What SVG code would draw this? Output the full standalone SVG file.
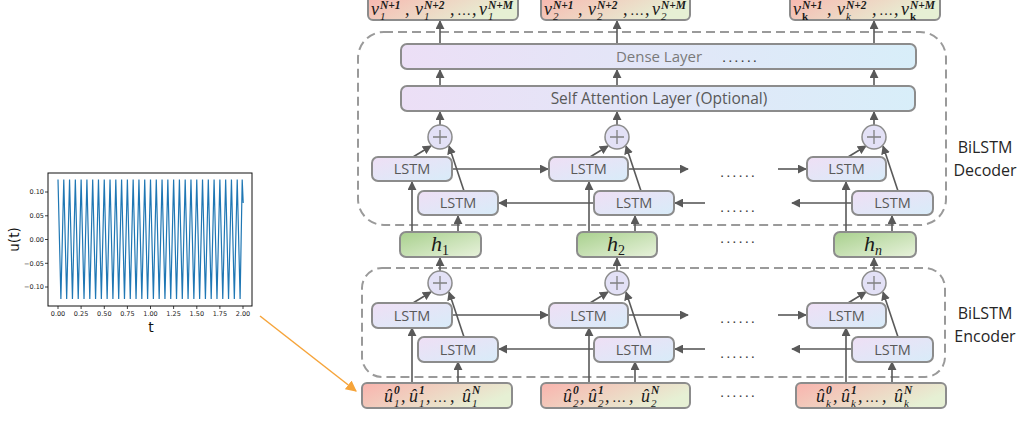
<svg xmlns="http://www.w3.org/2000/svg" width="1027" height="421" viewBox="0 0 1027 421">
  <defs>
    <linearGradient id="gLstm" x1="0" y1="0" x2="1" y2="1">
      <stop offset="0" stop-color="#efdff5"/>
      <stop offset="1" stop-color="#d8ecf9"/>
    </linearGradient>
    <linearGradient id="gLayer" x1="0" y1="0" x2="1" y2="0">
      <stop offset="0" stop-color="#ecdff6"/>
      <stop offset="1" stop-color="#d8eef9"/>
    </linearGradient>
    <linearGradient id="gH" x1="0" y1="0" x2="1" y2="1">
      <stop offset="0" stop-color="#a8d08d"/>
      <stop offset="1" stop-color="#e8f2dc"/>
    </linearGradient>
    <linearGradient id="gSeq" x1="0" y1="0" x2="1" y2="0.4">
      <stop offset="0" stop-color="#f9b3ad"/>
      <stop offset="1" stop-color="#e6f0d4"/>
    </linearGradient>
    <marker id="ah" viewBox="0 0 10 10" refX="9" refY="5" markerWidth="9" markerHeight="9" markerUnits="userSpaceOnUse" orient="auto">
      <path d="M0,0 L10,5 L0,10 z" fill="#595959"/>
    </marker>
    <marker id="ahO" viewBox="0 0 10 10" refX="9" refY="5" markerWidth="11" markerHeight="11" markerUnits="userSpaceOnUse" orient="auto">
      <path d="M0,0 L10,5 L0,10 z" fill="#f6a43a"/>
    </marker>
  </defs>
  <style>
    .box{stroke:#8c8c8c;stroke-width:2}
    .lstm{fill:url(#gLstm)}
    .layer{fill:url(#gLayer)}
    .hbox{fill:url(#gH)}
    .seq{fill:url(#gSeq)}
    .sum{fill:#e3e1f6;stroke:#8c8c8c;stroke-width:1.5}
    .plus{stroke:#808080;stroke-width:1.3}
    .dash{fill:none;stroke:#9a9a9a;stroke-width:2;stroke-dasharray:9 5}
    .lbl{font-family:"Open Sans","Liberation Sans",sans-serif;font-size:14.5px;fill:#595959;text-anchor:middle}
    .lbl1{font-family:"Open Sans","Liberation Sans",sans-serif;font-size:15.5px;fill:#595959;text-anchor:middle}
    .lbl2{font-family:"Open Sans","Liberation Sans",sans-serif;font-size:15px;fill:#7a7a7a;text-anchor:middle}
    .side{font-family:"Open Sans","Liberation Sans",sans-serif;font-size:16px;fill:#262626;text-anchor:middle}
    .dots{font-family:"Liberation Sans",sans-serif;font-size:15px;fill:#404040;letter-spacing:2px}
    .m{font-family:"Liberation Serif",serif;font-style:italic;fill:#1a1a1a}
    .mv{font-size:18px}
    .me{font-size:14px;font-style:normal}
    .ms{font-size:11px}
    .mb{font-size:11.5px;font-weight:bold}
    .mh{font-size:22px}
    .mhs{font-size:14px;font-style:normal}
    .up{font-style:normal;font-weight:bold}
    .c{stroke:#595959;stroke-width:1.6;fill:none;marker-end:url(#ah)}
    .ax{font-family:"DejaVu Sans",sans-serif;font-size:6.5px;fill:#222}
  </style>

  <!-- signal plot -->
  <g id="plot">
    <polyline fill="none" stroke="#1f77b4" stroke-width="1.2" points="58,179.6 60.89,298.9 63.78,179.6 66.67,298.9 69.56,179.6 72.45,298.9 75.34,179.6 78.23,298.9 81.13,179.6 84.02,298.9 86.91,179.6 89.8,298.9 92.69,179.6 95.58,298.9 98.47,179.6 101.36,298.9 104.25,179.6 107.14,298.9 110.03,179.6 112.92,298.9 115.81,179.6 118.7,298.9 121.59,179.6 124.48,298.9 127.38,179.6 130.27,298.9 133.16,179.6 136.05,298.9 138.94,179.6 141.83,298.9 144.72,179.6 147.61,298.9 150.5,179.6 153.39,298.9 156.28,179.6 159.17,298.9 162.06,179.6 164.95,298.9 167.84,179.6 170.73,298.9 173.63,179.6 176.52,298.9 179.41,179.6 182.3,298.9 185.19,179.6 188.08,298.9 190.97,179.6 193.86,298.9 196.75,179.6 199.64,298.9 202.53,179.6 205.42,298.9 208.31,179.6 211.2,298.9 214.09,179.6 216.98,298.9 219.88,179.6 222.77,298.9 225.66,179.6 228.55,298.9 231.44,179.6 234.33,298.9 237.22,179.6 240.11,298.9 242.2,179.6 243.2,203"/>
    <rect x="48" y="173" width="204" height="133" fill="none" stroke="#111" stroke-width="1"/>
    <g stroke="#111" stroke-width="0.8">
      <line x1="45" y1="192" x2="48" y2="192"/><line x1="45" y1="215.8" x2="48" y2="215.8"/><line x1="45" y1="239.5" x2="48" y2="239.5"/><line x1="45" y1="263.3" x2="48" y2="263.3"/><line x1="45" y1="287" x2="48" y2="287"/>
      <line x1="58" y1="306" x2="58" y2="309"/><line x1="81.1" y1="306" x2="81.1" y2="309"/><line x1="104.3" y1="306" x2="104.3" y2="309"/><line x1="127.4" y1="306" x2="127.4" y2="309"/><line x1="150.5" y1="306" x2="150.5" y2="309"/><line x1="173.6" y1="306" x2="173.6" y2="309"/><line x1="196.8" y1="306" x2="196.8" y2="309"/><line x1="219.9" y1="306" x2="219.9" y2="309"/><line x1="243" y1="306" x2="243" y2="309"/>
    </g>
    <g class="ax" text-anchor="end">
      <text x="44" y="194.3">0.10</text><text x="44" y="218.1">0.05</text><text x="44" y="241.8">0.00</text><text x="44" y="265.6">−0.05</text><text x="44" y="289.3">−0.10</text>
    </g>
    <g class="ax" text-anchor="middle">
      <text x="58" y="316">0.00</text><text x="81.1" y="316">0.25</text><text x="104.3" y="316">0.50</text><text x="127.4" y="316">0.75</text><text x="150.5" y="316">1.00</text><text x="173.6" y="316">1.25</text><text x="196.8" y="316">1.50</text><text x="219.9" y="316">1.75</text><text x="243" y="316">2.00</text>
    </g>
    <text x="151" y="332" font-family="DejaVu Sans,sans-serif" font-size="14" fill="#111" text-anchor="middle">t</text>
    <text transform="translate(19,239.5) rotate(-90)" font-family="DejaVu Sans,sans-serif" font-size="13.5" fill="#111" text-anchor="middle">u(t)</text>
  </g>

  <!-- grouping frames -->
  <g id="decoder-frame">
    <rect class="dash" x="358" y="32" width="588" height="193" rx="26"/>
    <text class="side" x="985" y="153">BiLSTM</text>
    <text class="side" x="985" y="176">Decoder</text>
  </g>
  <g id="encoder-frame">
    <rect class="dash" x="362" y="268" width="583" height="109" rx="20"/>
    <text class="side" x="985" y="319">BiLSTM</text>
    <text class="side" x="985" y="342">Encoder</text>
  </g>

  <!-- connectors -->
  <g id="connectors">
    <line x1="260" y1="316" x2="356" y2="391" stroke="#f6a43a" stroke-width="1.5" marker-end="url(#ahO)"/>
    <!-- encoder columns -->
    <line class="c" x1="412" y1="383" x2="412" y2="328"/>
    <line class="c" x1="458" y1="383" x2="458" y2="362"/>
    <line class="c" x1="589" y1="383" x2="589" y2="328"/>
    <line class="c" x1="635" y1="383" x2="635" y2="362"/>
    <line class="c" x1="846" y1="383" x2="846" y2="328"/>
    <line class="c" x1="892" y1="383" x2="892" y2="362"/>
    <line class="c" x1="413" y1="303" x2="431" y2="292"/>
    <line class="c" x1="464" y1="337" x2="449" y2="292"/>
    <line class="c" x1="590" y1="303" x2="608" y2="292"/>
    <line class="c" x1="641" y1="337" x2="626" y2="292"/>
    <line class="c" x1="848" y1="303" x2="866" y2="292"/>
    <line class="c" x1="898" y1="337" x2="883" y2="292"/>
    <line class="c" x1="452" y1="315" x2="548" y2="315"/>
    <line class="c" x1="628" y1="315" x2="688" y2="315"/>
    <line class="c" x1="778" y1="315" x2="806" y2="315"/>
    <line class="c" x1="852" y1="349" x2="792" y2="349"/>
    <line class="c" x1="705" y1="349" x2="675" y2="349"/>
    <line class="c" x1="594" y1="349" x2="499" y2="349"/>
    <line class="c" x1="440" y1="271" x2="440" y2="258"/>
    <line class="c" x1="617" y1="271" x2="617" y2="258"/>
    <line class="c" x1="874" y1="271" x2="874" y2="258"/>
    <!-- decoder columns -->
    <line class="c" x1="412" y1="232" x2="412" y2="182"/>
    <line class="c" x1="458" y1="232" x2="458" y2="216"/>
    <line class="c" x1="589" y1="232" x2="589" y2="182"/>
    <line class="c" x1="635" y1="232" x2="635" y2="216"/>
    <line class="c" x1="846" y1="232" x2="846" y2="182"/>
    <line class="c" x1="892" y1="232" x2="892" y2="216"/>
    <line class="c" x1="413" y1="157" x2="431" y2="146"/>
    <line class="c" x1="464" y1="191" x2="449" y2="146"/>
    <line class="c" x1="590" y1="157" x2="608" y2="146"/>
    <line class="c" x1="641" y1="191" x2="626" y2="146"/>
    <line class="c" x1="848" y1="157" x2="866" y2="146"/>
    <line class="c" x1="898" y1="191" x2="883" y2="146"/>
    <line class="c" x1="452" y1="169" x2="548" y2="169"/>
    <line class="c" x1="628" y1="169" x2="688" y2="169"/>
    <line class="c" x1="778" y1="169" x2="806" y2="169"/>
    <line class="c" x1="852" y1="203" x2="792" y2="203"/>
    <line class="c" x1="705" y1="203" x2="675" y2="203"/>
    <line class="c" x1="594" y1="203" x2="499" y2="203"/>
    <line class="c" x1="440" y1="125" x2="440" y2="112"/>
    <line class="c" x1="617" y1="125" x2="617" y2="112"/>
    <line class="c" x1="874" y1="125" x2="874" y2="112"/>
    <line class="c" x1="440" y1="86" x2="440" y2="70"/>
    <line class="c" x1="617" y1="86" x2="617" y2="70"/>
    <line class="c" x1="874" y1="86" x2="874" y2="70"/>
    <line class="c" x1="440" y1="44" x2="440" y2="21"/>
    <line class="c" x1="617" y1="44" x2="617" y2="21"/>
    <line class="c" x1="874" y1="44" x2="874" y2="21"/>
  </g>

  <!-- input sequences -->
  <g id="input-1">
    <rect class="box seq" x="362" y="383" width="150" height="25" rx="5"/>
    <text class="m"><tspan class="mv" x="384" y="402">û</tspan><tspan class="ms" x="394" y="407">1</tspan><tspan class="mb" x="394" y="394">0</tspan><tspan class="mv" x="401" y="402">,</tspan><tspan class="mv" x="409" y="402">û</tspan><tspan class="ms" x="419" y="407">1</tspan><tspan class="mb" x="419" y="394">1</tspan><tspan class="mv" x="426" y="402">,</tspan><tspan class="me" x="433" y="402">…</tspan><tspan class="mv" x="450" y="402">,</tspan><tspan class="mv" x="462" y="402">û</tspan><tspan class="ms" x="472" y="407">1</tspan><tspan class="mb" x="472" y="394">N</tspan></text>
  </g>
  <g id="input-2">
    <rect class="box seq" x="541" y="383" width="149" height="25" rx="5"/>
    <text class="m"><tspan class="mv" x="563" y="402">û</tspan><tspan class="ms" x="573" y="407">2</tspan><tspan class="mb" x="573" y="394">0</tspan><tspan class="mv" x="580" y="402">,</tspan><tspan class="mv" x="588" y="402">û</tspan><tspan class="ms" x="598" y="407">2</tspan><tspan class="mb" x="598" y="394">1</tspan><tspan class="mv" x="605" y="402">,</tspan><tspan class="me" x="612" y="402">…</tspan><tspan class="mv" x="629" y="402">,</tspan><tspan class="mv" x="641" y="402">û</tspan><tspan class="ms" x="651" y="407">2</tspan><tspan class="mb" x="651" y="394">N</tspan></text>
  </g>
  <g id="input-k">
    <rect class="box seq" x="796" y="383" width="150" height="25" rx="5"/>
    <text class="m"><tspan class="mv" x="816" y="402">û</tspan><tspan class="ms" x="826" y="407">k</tspan><tspan class="mb" x="826" y="394">0</tspan><tspan class="mv" x="833" y="402">,</tspan><tspan class="mv" x="841" y="402">û</tspan><tspan class="ms" x="851" y="407">k</tspan><tspan class="mb" x="851" y="394">1</tspan><tspan class="mv" x="858" y="402">,</tspan><tspan class="me" x="865" y="402">…</tspan><tspan class="mv" x="882" y="402">,</tspan><tspan class="mv" x="894" y="402">û</tspan><tspan class="ms" x="904" y="407">k</tspan><tspan class="mb" x="904" y="394">N</tspan></text>
  </g>
  <text class="dots" x="720" y="397">......</text>

  <!-- encoder cells -->
  <g id="enc-fw-1"><rect class="box lstm" x="372" y="303" width="80" height="25" rx="6"/><text class="lbl" x="412" y="320.5">LSTM</text></g>
  <g id="enc-bw-1"><rect class="box lstm" x="418" y="337" width="80" height="25" rx="6"/><text class="lbl" x="458" y="354.5">LSTM</text></g>
  <g id="enc-sum-1"><circle class="sum" cx="440" cy="283" r="12"/><path class="plus" d="M433,283h14M440,276v14"/></g>
  <g id="enc-fw-2"><rect class="box lstm" x="549" y="303" width="79" height="25" rx="6"/><text class="lbl" x="588.5" y="320.5">LSTM</text></g>
  <g id="enc-bw-2"><rect class="box lstm" x="594" y="337" width="80" height="25" rx="6"/><text class="lbl" x="634" y="354.5">LSTM</text></g>
  <g id="enc-sum-2"><circle class="sum" cx="617" cy="283" r="12"/><path class="plus" d="M610,283h14M617,276v14"/></g>
  <g id="enc-fw-k"><rect class="box lstm" x="807" y="303" width="79" height="25" rx="6"/><text class="lbl" x="846.5" y="320.5">LSTM</text></g>
  <g id="enc-bw-k"><rect class="box lstm" x="852" y="337" width="81" height="25" rx="6"/><text class="lbl" x="892.5" y="354.5">LSTM</text></g>
  <g id="enc-sum-k"><circle class="sum" cx="874" cy="283" r="12"/><path class="plus" d="M867,283h14M874,276v14"/></g>
  <text class="dots" x="720" y="323">......</text>
  <text class="dots" x="720" y="358">......</text>

  <!-- hidden states -->
  <g id="h-1"><rect class="box hbox" x="400" y="232" width="81" height="25" rx="6"/><text class="m"><tspan class="mh" x="431" y="251">h</tspan><tspan class="mhs" x="442" y="255">1</tspan></text></g>
  <g id="h-2"><rect class="box hbox" x="577" y="232" width="80" height="25" rx="6"/><text class="m"><tspan class="mh" x="607" y="251">h</tspan><tspan class="mhs" x="618" y="255">2</tspan></text></g>
  <g id="h-n"><rect class="box hbox" x="834" y="232" width="82" height="25" rx="6"/><text class="m"><tspan class="mh" x="864" y="251">h</tspan><tspan class="mh" style="font-size:14px" x="875" y="255">n</tspan></text></g>
  <text class="dots" x="720" y="243">......</text>

  <!-- decoder cells -->
  <g id="dec-fw-1"><rect class="box lstm" x="372" y="157" width="80" height="24" rx="6"/><text class="lbl" x="412" y="174">LSTM</text></g>
  <g id="dec-bw-1"><rect class="box lstm" x="418" y="191" width="80" height="24" rx="6"/><text class="lbl" x="458" y="208">LSTM</text></g>
  <g id="dec-sum-1"><circle class="sum" cx="440" cy="137" r="12"/><path class="plus" d="M433,137h14M440,130v14"/></g>
  <g id="dec-fw-2"><rect class="box lstm" x="549" y="157" width="79" height="24" rx="6"/><text class="lbl" x="588.5" y="174">LSTM</text></g>
  <g id="dec-bw-2"><rect class="box lstm" x="594" y="191" width="80" height="24" rx="6"/><text class="lbl" x="634" y="208">LSTM</text></g>
  <g id="dec-sum-2"><circle class="sum" cx="617" cy="137" r="12"/><path class="plus" d="M610,137h14M617,130v14"/></g>
  <g id="dec-fw-k"><rect class="box lstm" x="807" y="157" width="79" height="24" rx="6"/><text class="lbl" x="846.5" y="174">LSTM</text></g>
  <g id="dec-bw-k"><rect class="box lstm" x="852" y="191" width="81" height="24" rx="6"/><text class="lbl" x="892.5" y="208">LSTM</text></g>
  <g id="dec-sum-k"><circle class="sum" cx="874" cy="137" r="12"/><path class="plus" d="M867,137h14M874,130v14"/></g>
  <text class="dots" x="720" y="177">......</text>
  <text class="dots" x="720" y="212">......</text>

  <!-- shared layers -->
  <g id="self-attention"><rect class="box layer" x="401" y="86" width="514" height="25" rx="6"/><text class="lbl1" x="659" y="104">Self Attention Layer (Optional)</text></g>
  <g id="dense"><rect class="box layer" x="401" y="44" width="515" height="25" rx="6"/><text class="lbl2" x="659" y="62">Dense Layer</text><text class="dots" x="722" y="62">......</text></g>

  <!-- output sequences -->
  <g id="output-1">
    <rect class="box seq" x="368" y="-8" width="150" height="28" rx="5"/>
    <text class="m"><tspan class="mv" x="371" y="15">v</tspan><tspan class="ms" x="380" y="19.5">1</tspan><tspan class="mb" x="380" y="8.5">N+1</tspan><tspan class="mv" x="405" y="15">,</tspan><tspan class="mv" x="415" y="15">v</tspan><tspan class="ms" x="424" y="19.5">1</tspan><tspan class="mb" x="424" y="8.5">N+2</tspan><tspan class="mv" x="450" y="15">,</tspan><tspan class="me" x="457" y="15">…</tspan><tspan class="mv" x="472" y="15">,</tspan><tspan class="mv" x="479" y="15">v</tspan><tspan class="ms" x="488" y="19.5">1</tspan><tspan class="mb" x="488" y="8.5">N+M</tspan></text>
  </g>
  <g id="output-2">
    <rect class="box seq" x="541" y="-8" width="149" height="28" rx="5"/>
    <text class="m"><tspan class="mv" x="544" y="15">v</tspan><tspan class="ms" x="553" y="19.5">2</tspan><tspan class="mb" x="553" y="8.5">N+1</tspan><tspan class="mv" x="578" y="15">,</tspan><tspan class="mv" x="588" y="15">v</tspan><tspan class="ms" x="597" y="19.5">2</tspan><tspan class="mb" x="597" y="8.5">N+2</tspan><tspan class="mv" x="623" y="15">,</tspan><tspan class="me" x="630" y="15">…</tspan><tspan class="mv" x="645" y="15">,</tspan><tspan class="mv" x="652" y="15">v</tspan><tspan class="ms" x="661" y="19.5">2</tspan><tspan class="mb" x="661" y="8.5">N+M</tspan></text>
  </g>
  <g id="output-k">
    <rect class="box seq" x="790" y="-8" width="150" height="28" rx="5"/>
    <text class="m"><tspan class="mv" x="793" y="15">v</tspan><tspan class="ms up" x="802" y="19.5">k</tspan><tspan class="mb" x="802" y="8.5">N+1</tspan><tspan class="mv" x="827" y="15">,</tspan><tspan class="mv" x="837" y="15">v</tspan><tspan class="ms" x="846" y="19.5">k</tspan><tspan class="mb" x="846" y="8.5">N+2</tspan><tspan class="mv" x="872" y="15">,</tspan><tspan class="me" x="879" y="15">…</tspan><tspan class="mv" x="894" y="15">,</tspan><tspan class="mv" x="901" y="15">v</tspan><tspan class="ms up" x="910" y="19.5">k</tspan><tspan class="mb" x="910" y="8.5">N+M</tspan></text>
  </g>
</svg>
